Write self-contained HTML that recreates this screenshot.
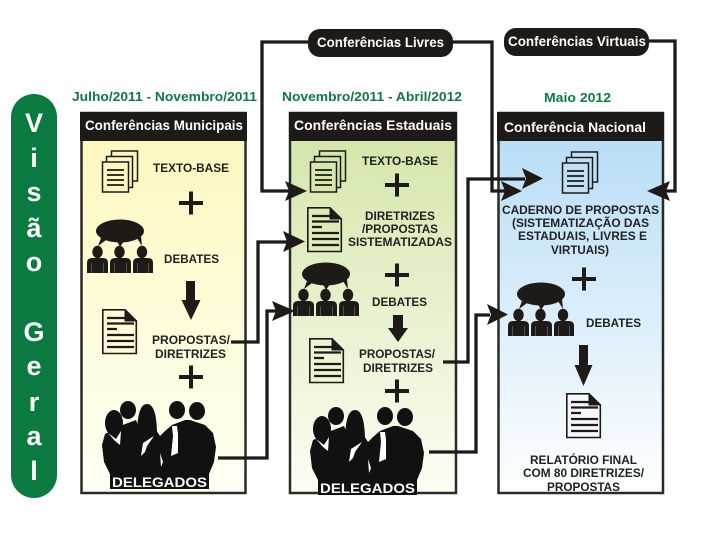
<!DOCTYPE html>
<html><head><meta charset="utf-8"><style>
html,body{margin:0;padding:0;background:#fff}
svg{display:block}
text{font-family:"Liberation Sans",sans-serif;font-weight:bold}
.d{fill:#0f7a45;font-size:13.2px}
.h{fill:#fff;font-size:14px}
.t{fill:#222;font-size:12px}
.w{fill:#fff;font-size:13.5px}
.g{fill:#fff;font-size:27px;text-anchor:middle}
</style></head><body>
<svg width="720" height="540" viewBox="0 0 720 540" xmlns="http://www.w3.org/2000/svg">
<defs>
<linearGradient id="gy" x1="0" y1="0" x2="0" y2="1"><stop offset="0" stop-color="#fdf7bb"/><stop offset="1" stop-color="#fffff4"/></linearGradient>
<linearGradient id="gg" x1="0" y1="0" x2="0" y2="1"><stop offset="0" stop-color="#d1e5a6"/><stop offset="1" stop-color="#fcfdf4"/></linearGradient>
<linearGradient id="gb" x1="0" y1="0" x2="0" y2="1"><stop offset="0" stop-color="#b4dbf6"/><stop offset="1" stop-color="#feffff"/></linearGradient>
<g id="stack" stroke="#1d1a17" stroke-width="1.5">
<rect x="111.500" y="151" width="26" height="30"/>
<rect x="106.500" y="156.500" width="26" height="31"/>
<rect x="102.500" y="162" width="26" height="30"/>
<path d="M107 170h17M107 175h17M107 180h17M107 185h17" stroke-width="1.700" fill="none"/>
</g>
<g id="doc">
<path d="M102.800 309.800H125L136.300 321V353.500H102.800Z" stroke="#1d1a17" stroke-width="1.600"/>
<path d="M125 309.800L136.300 321H125Z" fill="#1d1a17" stroke="#1d1a17"/>
<path d="M107 318h20M107 323.500h27M107 329h10M107 335h27M107 341h27M107 347h27" stroke="#1d1a17" stroke-width="2.200" fill="none"/>
</g>
<g id="deb" fill="#1d1a17">
<ellipse cx="120" cy="231" rx="24" ry="11.500"/>
<path d="M101 238L98 246L106 240ZM117 241L120 247L124 241ZM137 238L142 246L141 236Z"/>
<ellipse cx="97.500" cy="252" rx="5.200" ry="6.200"/><ellipse cx="119.500" cy="252" rx="5.200" ry="6.200"/><ellipse cx="142" cy="252" rx="5.200" ry="6.200"/>
<path d="M87 273V263Q87 258 92 258H103Q108 258 108 263V273Z"/>
<path d="M110 273V263Q110 258 115 258H126Q131 258 131 263V273Z"/>
<path d="M133 273V263Q133 258 138 258H148Q153 258 153 263V273Z"/>
<path d="M91.500 263V273M103.500 263V273M114.500 263V273M126.500 263V273M137.500 263V273M148.500 263V273" stroke="#fff" stroke-opacity=".35" stroke-width=".7" fill="none"/>
</g>
<g id="del">
<ellipse cx="114" cy="423" rx="9" ry="13" fill="#111"/>
<ellipse cx="128" cy="410" rx="8" ry="9" fill="#111"/>
<path d="M137 436Q137 404 147 404Q157 404 157 436Z" fill="#111"/>
<ellipse cx="177" cy="410" rx="8" ry="9" fill="#111"/>
<ellipse cx="197" cy="411" rx="8" ry="9" fill="#111"/>
<path d="M102 445L105 434L112 431L120 426L136 420L140 430L155 428L160 436L165 431L172 425L185 420L190 420L205 425L213 433L216 447L214 462L209 474V489H110V474L104 462Z" fill="#111"/>
<path d="M172 426L177 426L178 434L178 453L171 456L173 436ZM108 433L116 439L121 431L120 445L115 441ZM141 456L143 443L154 436L147 446L145 452ZM160 453L163 462L161 467Z" fill="#fff"/>
<text x="112" y="487" class="w" textLength="95" lengthAdjust="spacingAndGlyphs">DELEGADOS</text>
</g>
<g id="plus"><path d="M-12 -2H12V2H-12ZM-2 -11.500H2V11.500H-2Z" fill="#1d1a17"/></g>
</defs>

<rect x="11" y="94" width="46" height="404" rx="23" fill="#0b7a40"/>
<text x="34" y="132" class="g">V</text><text x="34" y="167" class="g">i</text><text x="34" y="201" class="g">s</text><text x="34" y="237" class="g">ã</text><text x="34" y="271" class="g">o</text>
<text x="34" y="341" class="g">G</text><text x="34" y="375" class="g">e</text><text x="34" y="411" class="g">r</text><text x="34" y="445" class="g">a</text><text x="34" y="480" class="g">l</text>

<text x="72" y="101" class="d" textLength="185" lengthAdjust="spacingAndGlyphs">Julho/2011 - Novembro/2011</text>
<text x="282" y="101" class="d" textLength="180" lengthAdjust="spacingAndGlyphs">Novembro/2011 - Abril/2012</text>
<text x="544" y="102" class="d" textLength="67" lengthAdjust="spacingAndGlyphs">Maio 2012</text>

<rect x="81.500" y="113" width="164" height="380" fill="url(#gy)" stroke="#2b2a28" stroke-width="2.500"/>
<rect x="80" y="112" width="167" height="29" fill="#1d1a17"/>
<rect x="290" y="113" width="166" height="380" fill="url(#gg)" stroke="#2b2a28" stroke-width="2.500"/>
<rect x="289" y="112" width="168" height="29" fill="#1d1a17"/>
<rect x="498.500" y="113" width="164.500" height="380" fill="url(#gb)" stroke="#2b2a28" stroke-width="2.500"/>
<rect x="497" y="112" width="167" height="29" fill="#1d1a17"/>

<text x="85" y="130" class="h" textLength="158" lengthAdjust="spacingAndGlyphs">Conferências Municipais</text>
<text x="294" y="130" class="h" textLength="158" lengthAdjust="spacingAndGlyphs">Conferências Estaduais</text>
<text x="504" y="132" class="h" textLength="142" lengthAdjust="spacingAndGlyphs">Conferência Nacional</text>

<rect x="308" y="29" width="145" height="28" rx="12" fill="#1d1a17"/>
<text x="317" y="47" class="h" textLength="127" lengthAdjust="spacingAndGlyphs">Conferências Livres</text>
<rect x="504" y="28" width="145" height="28" rx="12" fill="#1d1a17"/>
<text x="508" y="46" class="h" textLength="138" lengthAdjust="spacingAndGlyphs">Conferências Virtuais</text>

<use href="#stack" fill="#fdf7c2"/>
<text x="153" y="172" class="t" textLength="76" lengthAdjust="spacingAndGlyphs">TEXTO-BASE</text>
<use href="#plus" x="191" y="203"/>
<use href="#deb"/>
<text x="164" y="263" class="t" textLength="55" lengthAdjust="spacingAndGlyphs">DEBATES</text>
<path d="M186 281H195V300H200.500L191 320L181.500 300H186Z" fill="#1d1a17"/>
<use href="#doc" fill="#fefbd6"/>
<text x="152" y="344" class="t" textLength="78" lengthAdjust="spacingAndGlyphs">PROPOSTAS/</text>
<text x="155" y="358" class="t" textLength="71" lengthAdjust="spacingAndGlyphs">DIRETRIZES</text>
<use href="#plus" x="191" y="377"/>
<use href="#del"/>

<use href="#stack" x="208" y="0" fill="#d4e7ac"/>
<text x="362" y="165" class="t" textLength="76" lengthAdjust="spacingAndGlyphs">TEXTO-BASE</text>
<use href="#plus" x="397" y="185"/>
<use href="#doc" x="205" y="-102" fill="#dcebb8"/>
<text x="365" y="220" class="t" textLength="70" lengthAdjust="spacingAndGlyphs">DIRETRIZES</text>
<text x="362" y="233" class="t" textLength="76" lengthAdjust="spacingAndGlyphs">/PROPOSTAS</text>
<text x="348" y="246" class="t" textLength="104" lengthAdjust="spacingAndGlyphs">SISTEMATIZADAS</text>
<use href="#plus" x="397" y="275"/>
<use href="#deb" x="206" y="43"/>
<text x="372" y="306" class="t" textLength="55" lengthAdjust="spacingAndGlyphs">DEBATES</text>
<path d="M393 315H403V328H408L398 342L388 328H393Z" fill="#1d1a17"/>
<use href="#doc" x="207" y="29" fill="#edf4d6"/>
<text x="359" y="358" class="t" textLength="76" lengthAdjust="spacingAndGlyphs">PROPOSTAS/</text>
<text x="363" y="372" class="t" textLength="70" lengthAdjust="spacingAndGlyphs">DIRETRIZES</text>
<use href="#plus" x="397" y="391"/>
<use href="#del" x="208" y="6"/>

<use href="#stack" x="460" y="1" fill="#bfe0f7"/>
<text x="502" y="214" class="t" textLength="157" lengthAdjust="spacingAndGlyphs">CADERNO DE PROPOSTAS</text>
<text x="512" y="227" class="t" textLength="137" lengthAdjust="spacingAndGlyphs">(SISTEMATIZAÇÃO DAS</text>
<text x="518" y="240" class="t" textLength="129" lengthAdjust="spacingAndGlyphs">ESTADUAIS, LIVRES E</text>
<text x="551" y="254" class="t" textLength="58" lengthAdjust="spacingAndGlyphs">VIRTUAIS)</text>
<use href="#plus" x="584" y="279"/>
<use href="#deb" x="421" y="63"/>
<text x="586" y="327" class="t" textLength="55" lengthAdjust="spacingAndGlyphs">DEBATES</text>
<path d="M579 345H588V365H592.500L583.500 386L574.500 365H579Z" fill="#1d1a17"/>
<use href="#doc" x="464" y="84" fill="#f3f9fe"/>
<text x="530" y="464" class="t" textLength="107" lengthAdjust="spacingAndGlyphs">RELATÓRIO FINAL</text>
<text x="523" y="477" class="t" textLength="121" lengthAdjust="spacingAndGlyphs">COM 80 DIRETRIZES/</text>
<text x="547" y="491" class="t" textLength="73" lengthAdjust="spacingAndGlyphs">PROPOSTAS</text>

<g fill="none" stroke="#1d1a17" stroke-width="3.300">
<path d="M308 42H262V191H290"/>
<path d="M453 42H492V191H505"/>
<path d="M649 41H675V191H665"/>
<path d="M231 342H258V242H288"/>
<path d="M218 458H267V311H276"/>
<path d="M443 362H468V179H525"/>
<path d="M429 452H476V315H490"/>
</g>
<g fill="#1d1a17">
<path d="M307 191L285 181L289 191L285 201Z"/>
<path d="M522 191L501 181L505 191L501 201Z"/>
<path d="M647 191L670 181L666 191L670 201Z"/>
<path d="M305 241.500L283 231L287 241.500L283 252Z"/>
<path d="M295 311L272 301L276 311L272 321Z"/>
<path d="M543 178.500L522 168L526 178.500L522 189Z"/>
<path d="M508 314.500L487 304L491 314.500L487 325Z"/>
</g>
</svg>
</body></html>
